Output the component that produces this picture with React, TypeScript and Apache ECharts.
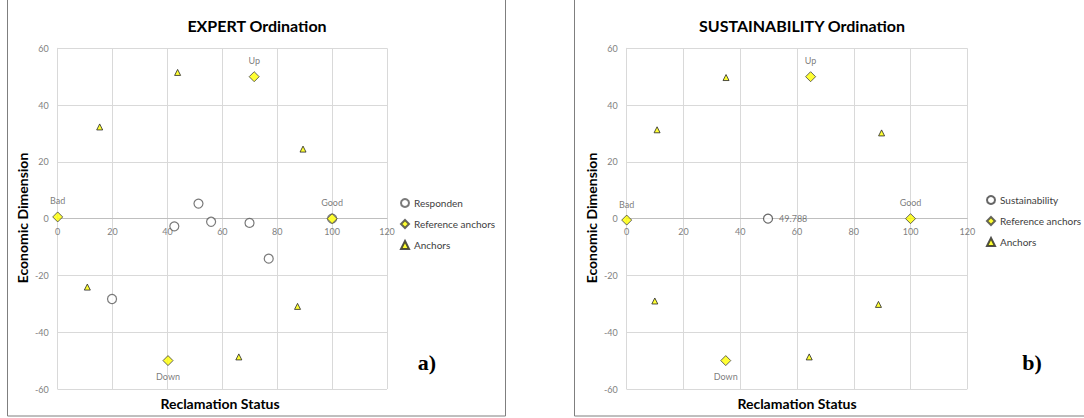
import React, { useEffect, useRef } from "react";
import * as echarts from "echarts";

// ---- Data: panel a (EXPERT Ordination) ----
const respondenA: number[][] = [
  [51.3, 5.3],
  [42.5, -2.7],
  [55.9, -1.1],
  [69.9, -1.5],
  [76.9, -14.1],
  [19.8, -28.3],
  [100, 0],
];
const refAnchorNames = ["Bad", "Good", "Up", "Down"];
const refAnchorsA: number[][] = [
  [0, 0.6],
  [100, 0],
  [71.6, 50],
  [40.2, -50],
];
const anchorsA: number[][] = [
  [43.7, 51.5],
  [15.3, 32.3],
  [89.4, 24.5],
  [10.8, -24.1],
  [87.4, -30.9],
  [66.0, -48.7],
];

// ---- Data: panel b (SUSTAINABILITY Ordination) ----
const sustainabilityB: number[][] = [[49.788, 0]];
const refAnchorsB: number[][] = [
  [0, -0.5],
  [100, 0],
  [64.8, 50],
  [34.9, -50],
];
const anchorsB: number[][] = [
  [35.0, 49.7],
  [10.7, 31.3],
  [89.8, 30.2],
  [9.9, -29.0],
  [88.7, -30.2],
  [64.3, -48.7],
];

const xTicks = { min: 0, max: 120, interval: 20 };
const yTicks = { min: -60, max: 60, interval: 20 };
const yUpperHalf = { min: 0, max: 60, interval: 20 };

const FONT = "Lato, 'Open Sans', sans-serif";
const GRID_COLOR = "#d9d9d9";
const TICK_COLOR = "#7f7f7f";

// main x axis: vertical grid lines only
function xAxisMain(gridIndex: number) {
  return {
    type: "value",
    gridIndex,
    ...xTicks,
    axisLine: { show: false },
    axisTick: { show: false },
    axisLabel: { show: false },
    splitLine: { show: true, showMinLine: true, showMaxLine: true, lineStyle: { color: GRID_COLOR, width: 1 } },
  };
}
// x axis drawn along the y = 0 line (bottom of the upper-half grid)
function xAxisZero(gridIndex: number) {
  return {
    type: "value",
    gridIndex,
    ...xTicks,
    position: "bottom",
    axisLine: { show: true, onZero: false, lineStyle: { color: "#bfbfbf", width: 1 } },
    axisTick: { show: false },
    axisLabel: { color: TICK_COLOR, fontSize: 9, fontFamily: FONT, margin: 8 },
    splitLine: { show: false },
  };
}
function yAxisMain(gridIndex: number) {
  return {
    type: "value",
    gridIndex,
    ...yTicks,
    axisLine: { show: true, onZero: false, lineStyle: { color: GRID_COLOR, width: 1 } },
    axisTick: { show: false },
    axisLabel: { color: TICK_COLOR, fontSize: 9, fontFamily: FONT, margin: 9 },
    splitLine: { show: true, showMinLine: true, showMaxLine: true, lineStyle: { color: GRID_COLOR, width: 1 } },
  };
}
function yAxisHidden(gridIndex: number) {
  return { type: "value", gridIndex, ...yUpperHalf, show: false };
}

const labelPos = ["top", "top", "top", "bottom"];

function refSeries(idx: number, data: number[][]) {
  return {
    name: "Reference anchors",
    type: "scatter",
    xAxisIndex: idx,
    yAxisIndex: idx,
    symbol: "diamond",
    symbolSize: 10,
    z: 4,
    itemStyle: { color: "#ffff00", borderColor: "#404040", borderWidth: 1 },
    data: data.map((d, i) => ({
      value: d,
      name: refAnchorNames[i],
      label: {
        show: true,
        position: labelPos[i],
        distance: 6,
        formatter: refAnchorNames[i],
        color: "#595959",
        fontSize: 9,
        fontFamily: FONT,
      },
    })),
  };
}
function anchorSeries(idx: number, data: number[][]) {
  return {
    name: "Anchors",
    type: "scatter",
    xAxisIndex: idx,
    yAxisIndex: idx,
    symbol: "triangle",
    symbolSize: 6,
    z: 3,
    itemStyle: { color: "#ffff00", borderColor: "#262626", borderWidth: 1 },
    data,
  };
}

function axisTitle(text: string, x: number, y: number, rotated: boolean) {
  return {
    type: "text",
    x,
    y,
    rotation: rotated ? Math.PI / 2 : 0,
    style: {
      text,
      font: `bold 14px ${FONT}`,
      fill: "#000",
      textAlign: "center",
      textVerticalAlign: "middle",
    },
  };
}

export default function App() {
  const ref = useRef<HTMLDivElement>(null);
  useEffect(() => {
    if (!ref.current) return;
    const chart = echarts.init(ref.current, undefined, { renderer: "svg" });
    const legendCommon = {
      orient: "vertical",
      itemWidth: 8,
      itemHeight: 8,
      itemGap: 11,
      textStyle: { color: "#404040", fontSize: 10, fontFamily: FONT },
      padding: 0,
    };
    const gridA = { left: 57.7, width: 329.3 };
    const gridB = { left: 626.7, width: 340.6 };
    chart.setOption({
      animation: false,
      backgroundColor: "#ffffff",
      title: [
        {
          text: "EXPERT Ordination",
          left: 252,
          top: 12,
          textAlign: "center",
          textStyle: { fontFamily: FONT, fontWeight: "bold", fontSize: 16, color: "#000" },
        },
        {
          text: "SUSTAINABILITY Ordination",
          left: 797,
          top: 12,
          textAlign: "center",
          textStyle: { fontFamily: FONT, fontWeight: "bold", fontSize: 16, color: "#000" },
        },
      ],
      grid: [
        { ...gridA, top: 48.3, height: 340.7 },
        { ...gridB, top: 48.3, height: 340.7 },
        { ...gridA, top: 48.3, height: 170.35 },
        { ...gridB, top: 48.3, height: 170.35 },
      ],
      xAxis: [xAxisMain(0), xAxisMain(1), xAxisZero(2), xAxisZero(3)],
      yAxis: [yAxisMain(0), yAxisMain(1), yAxisHidden(2), yAxisHidden(3)],
      legend: [
        {
          ...legendCommon,
          left: 400,
          top: 198,
          data: [
            { name: "Responden", icon: "circle" },
            { name: "Reference anchors", icon: "diamond" },
            { name: "Anchors", icon: "triangle" },
          ],
        },
        {
          ...legendCommon,
          left: 986,
          top: 195,
          data: [
            { name: "Sustainability", icon: "circle" },
            { name: "Reference anchors", icon: "diamond" },
            { name: "Anchors", icon: "triangle" },
          ],
        },
      ],
      series: [
        {
          name: "Responden",
          type: "scatter",
          xAxisIndex: 0,
          yAxisIndex: 0,
          symbol: "circle",
          symbolSize: 9,
          z: 2,
          itemStyle: { color: "#ffffff", borderColor: "#595959", borderWidth: 1.2 },
          data: respondenA,
        },
        refSeries(0, refAnchorsA),
        anchorSeries(0, anchorsA),
        {
          name: "Sustainability",
          type: "scatter",
          xAxisIndex: 1,
          yAxisIndex: 1,
          symbol: "circle",
          symbolSize: 9,
          z: 2,
          itemStyle: { color: "#ffffff", borderColor: "#404040", borderWidth: 1.2 },
          label: {
            show: true,
            position: "right",
            distance: 6,
            formatter: (p: any) => String(p.value[0]),
            color: "#595959",
            fontSize: 9,
            fontFamily: FONT,
          },
          data: sustainabilityB,
        },
        refSeries(1, refAnchorsB),
        anchorSeries(1, anchorsB),
      ],
      graphic: [
        {
          type: "rect",
          shape: { x: 7.5, y: -5, width: 498, height: 421 },
          style: { fill: "none", stroke: "#7f7f7f", lineWidth: 1 },
          silent: true,
        },
        {
          type: "rect",
          shape: { x: 574.5, y: -5, width: 520, height: 421 },
          style: { fill: "none", stroke: "#7f7f7f", lineWidth: 1 },
          silent: true,
        },
        axisTitle("Reclamation Status", 220, 403, false),
        axisTitle("Reclamation Status", 797, 403, false),
        axisTitle("Economic Dimension", 22, 218, true),
        axisTitle("Economic Dimension", 591, 218, true),
        {
          type: "text",
          x: 427,
          y: 362,
          style: {
            text: "a)",
            font: `bold 22px 'Liberation Serif', serif`,
            fill: "#000",
            textAlign: "center",
            textVerticalAlign: "middle",
          },
        },
        {
          type: "text",
          x: 1032,
          y: 362,
          style: {
            text: "b)",
            font: `bold 22px 'Liberation Serif', serif`,
            fill: "#000",
            textAlign: "center",
            textVerticalAlign: "middle",
          },
        },
      ],
    });
    return () => chart.dispose();
  }, []);
  return (
    <div
      ref={ref}
      style={{ position: "fixed", left: 0, top: 0, width: 1084, height: 418 }}
    />
  );
}
